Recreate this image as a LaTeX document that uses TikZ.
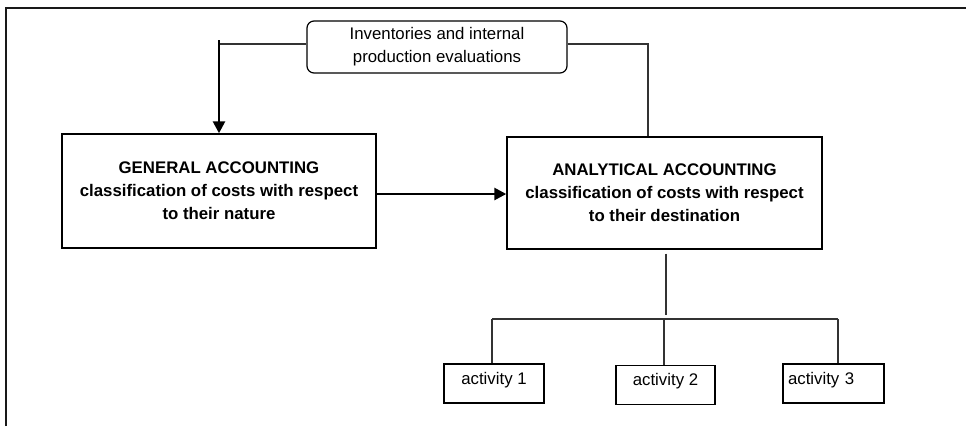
\documentclass[tikz,border=0pt]{standalone}
\usepackage{fontspec}
\setmainfont{Liberation Sans}
\usetikzlibrary{arrows.meta,calc}

\tikzset{
  txt/.style={font=\fontsize{16.8}{23}\selectfont},
  bigbox/.style={draw=black, line width=1.4pt, inner sep=0pt, align=center, txt},
  actbox/.style={draw=black, line width=1.3pt, inner sep=0pt, minimum width=100pt,
                 text height=20pt, text depth=19pt, txt},
  link/.style={draw=black!80, line width=1.3pt},
  flow/.style={draw=black, line width=2.6pt, -{Triangle[length=12pt,width=12pt]}},
}

\begin{document}
\begin{tikzpicture}[x=1pt,y=-1pt]
  \useasboundingbox (0,0) rectangle (966,426);

  % frame
  \draw[line width=2pt, black!90] (6,426) -- (6,8) -- (966,8);

  % boxes
  \node[draw=black, line width=1.2pt, rounded corners=7pt, minimum width=260pt,
        minimum height=52pt, inner sep=0pt, align=center, txt]
        (inv) at (437,47) {Inventories and internal\\production evaluations};

  \node[bigbox, minimum width=314pt, minimum height=114pt] (ga) at (219,191)
        {\textbf{GENERAL ACCOUNTING}\\\textbf{classification of costs with respect}\\\textbf{to their nature}};

  \node[bigbox, minimum width=315pt, minimum height=112pt] (aa) at (664.5,193)
        {\textbf{ANALYTICAL ACCOUNTING}\\\textbf{classification of costs with respect}\\\textbf{to their destination}};

  \node[actbox] (a1) at (494,383.5) {activity 1};
  \node[actbox, minimum width=99pt] (a2) at (665.5,385) {activity 2};
  \node[actbox, minimum width=101pt, text width=91pt, inner xsep=5pt, align=left]
        (a3) at (833.5,383.5) {activity 3};

  % links from the evaluation box
  \coordinate (lc) at (219,44);
  \coordinate (rc) at (648,44);
  \draw[link] (inv.west |- lc) -- (lc);
  \draw[flow] (219,40) -- (ga.north);
  \draw[link] (inv.east |- rc) -- (rc) -- (rc |- aa.north);

  % general to analytical
  \draw[flow] ($(ga.east)+(0,3)$) -- ($(ga.east -| aa.west)+(0,3)$);

  % tree to the activities
  \coordinate (stem) at (666,319);
  \coordinate (b1) at (492,319);
  \coordinate (b2) at (664,319);
  \coordinate (b3) at (838,319);
  \draw[link] ($(aa.south -| stem)+(0,4)$) -- ($(stem)+(0,-4)$);
  \draw[link] (b1) -- (b3);
  \draw[link] (b1) -- (b1 |- a1.north);
  \draw[link] (b2) -- (b2 |- a2.north);
  \draw[link] (b3) -- (b3 |- a3.north);
\end{tikzpicture}
\end{document}
